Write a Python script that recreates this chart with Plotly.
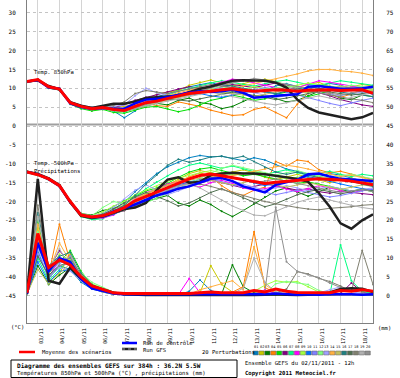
import plotly.graph_objects as go

# ---------------- data ----------------
HOURS = [0, 12, 24, 36, 48, 60, 72, 84, 96, 108, 120, 132, 144, 156, 168, 180, 192,
         204, 216, 228, 240, 252, 264, 276, 288, 300, 312, 324, 336, 348, 360, 372, 384]
DAY_HOURS = [12, 36, 60, 84, 108, 132, 156, 180, 204, 228, 252, 276, 300, 324, 348, 372]
DAY_LABELS = ["03/11", "04/11", "05/11", "06/11", "07/11", "08/11", "09/11", "10/11",
              "11/11", "12/11", "13/11", "14/11", "15/11", "16/11", "17/11", "18/11"]
LEFT_TICKS = [-45, -40, -35, -30, -25, -20, -15, -10, -5, 0, 5, 10, 15, 20, 25, 30]
RIGHT_TICKS = [0, 5, 10, 15, 20, 25, 30, 35, 40, 45, 50, 55, 60, 65, 70, 75]
PERT_NAMES = ["01", "02", "03", "04", "05", "06", "07", "08", "09", "10",
              "11", "12", "13", "14", "15", "16", "17", "18", "19", "20"]
PERT_COLORS = ["#0080c0", "#c8c800", "#008000", "#ff8000", "#00e000", "#800080", "#00ff80",
               "#ff00ff", "#a0ff40", "#0070ff", "#8080ff", "#80ff80", "#a0a0ff", "#ffb040",
               "#c0c060", "#208080", "#507050", "#808070", "#b0b0b0", "#909090"]

# Temperature 850 hPa (deg C)
T850_MEAN = [11.8, 12.3, 10.4, 9.8, 6.2, 5.2, 4.6, 4.9, 4.4, 4.1, 5.2, 6.2, 6.6, 7.4, 8.0, 8.6, 8.8,
             9.2, 9.6, 9.9, 9.5, 9.2, 9.4, 9.6, 9.5, 9.2, 9.5, 9.6, 9.6, 9.4, 9.4, 9.6, 8.7]
T850_CTRL = [11.8, 12.2, 10.2, 9.9, 6.0, 5.0, 4.5, 4.8, 4.6, 4.6, 6.0, 7.0, 7.2, 7.6, 8.2, 8.8, 9.2,
             9.0, 9.2, 9.6, 8.8, 7.5, 7.8, 8.0, 8.2, 8.4, 10.4, 10.6, 10.2, 9.9, 9.9, 10.0, 10.4]
T850_GFS = [11.8, 12.1, 10.6, 9.7, 6.3, 5.4, 4.8, 5.3, 5.9, 5.9, 6.5, 7.4, 7.6, 7.8, 8.0, 9.0, 9.9,
            10.5, 11.2, 12.0, 12.1, 12.0, 12.0, 11.5, 10.2, 7.0, 4.8, 3.6, 3.0, 2.4, 1.8, 2.3, 3.5]
T850_P01 = [11.7, 12.2, 10.1, 9.5, 6.0, 5.3, 4.8, 5.0, 4.0, 2.2, 4.0, 6.5, 7.8, 8.5, 9.6, 10.4, 11.0,
            11.5, 10.8, 10.2, 9.6, 8.8, 9.4, 10.6, 11.2, 10.4, 9.8, 10.5, 11.3, 10.8, 9.9, 10.2, 9.8]
T850_P02 = [11.9, 12.4, 10.6, 9.6, 6.4, 5.0, 4.3, 5.1, 4.8, 5.2, 5.8, 7.2, 8.4, 9.0, 9.4, 10.8, 11.6,
            12.2, 11.4, 10.6, 11.2, 12.0, 12.4, 11.8, 10.8, 10.2, 11.0, 11.6, 10.4, 9.8, 10.4, 11.0, 10.6]
T850_P03 = [11.8, 12.1, 10.2, 9.9, 6.1, 5.0, 4.4, 4.6, 4.2, 3.8, 4.6, 5.4, 6.0, 5.6, 6.8, 7.4, 6.2,
            5.8, 4.6, 5.2, 6.6, 7.8, 8.2, 7.2, 6.4, 6.8, 8.0, 9.2, 8.6, 7.4, 7.0, 8.2, 7.8]
T850_P04 = [11.6, 12.0, 10.3, 9.8, 6.3, 5.4, 4.9, 5.3, 4.6, 4.4, 5.8, 6.0, 5.4, 5.2, 6.4, 5.8, 5.2,
            4.2, 3.6, 2.8, 3.0, 4.4, 5.0, 3.6, 2.2, 5.8, 8.8, 9.6, 8.4, 7.6, 8.6, 9.4, 8.8]
T850_P05 = [11.8, 12.2, 10.0, 9.6, 5.8, 4.6, 4.0, 4.4, 3.6, 3.4, 4.2, 5.0, 5.2, 4.6, 3.8, 4.4, 5.6,
            6.8, 7.4, 8.2, 7.6, 6.8, 7.2, 8.4, 9.0, 8.2, 7.8, 8.6, 9.4, 10.0, 9.6, 9.0, 9.4]
T850_P06 = [11.9, 12.3, 10.4, 9.8, 6.2, 5.2, 4.7, 5.0, 4.9, 5.6, 6.8, 7.6, 8.2, 9.0, 9.8, 10.4, 10.0,
            9.6, 10.4, 11.0, 10.6, 10.2, 10.8, 11.4, 10.8, 10.0, 9.6, 8.8, 8.0, 7.0, 6.2, 5.6, 5.2]
T850_P07 = [11.7, 12.1, 10.3, 9.7, 6.0, 5.1, 4.6, 4.6, 4.0, 3.8, 4.8, 6.0, 7.0, 8.2, 9.2, 10.0, 10.6,
            11.4, 12.0, 11.6, 11.0, 10.6, 11.2, 11.8, 12.2, 11.6, 11.0, 10.8, 11.4, 12.0, 11.6, 11.2, 10.8]
T850_P08 = [11.8, 12.3, 10.5, 9.9, 6.3, 5.3, 4.7, 4.9, 4.3, 4.0, 5.0, 6.4, 7.0, 7.8, 8.6, 9.2, 9.8,
            10.8, 11.6, 12.4, 12.2, 11.4, 10.8, 10.0, 9.6, 10.2, 11.2, 12.0, 11.6, 11.0, 10.6, 10.2, 9.8]
T850_P09 = [11.9, 12.4, 10.6, 10.0, 6.4, 5.4, 4.8, 5.2, 4.7, 4.6, 5.4, 6.2, 6.8, 7.6, 8.2, 9.0, 9.4,
            9.0, 8.6, 9.2, 9.8, 10.4, 10.0, 9.6, 10.2, 10.8, 11.4, 11.0, 10.6, 10.2, 9.8, 10.2, 9.6]
T850_P10 = [11.8, 12.2, 10.4, 9.8, 6.1, 5.1, 4.5, 4.8, 4.2, 4.0, 4.8, 5.8, 6.6, 7.2, 7.6, 8.2, 8.6,
            8.0, 7.6, 8.2, 8.8, 9.4, 9.0, 8.6, 8.2, 8.8, 9.4, 9.8, 10.4, 10.0, 9.6, 9.2, 8.4]
T850_P11 = [11.7, 12.2, 10.3, 9.7, 6.0, 5.0, 4.5, 4.7, 4.3, 4.5, 5.6, 6.8, 7.2, 7.0, 7.8, 8.4, 9.0,
            9.6, 9.0, 8.4, 8.8, 9.6, 10.2, 9.8, 9.0, 8.2, 7.4, 6.8, 6.0, 5.4, 6.2, 6.8, 7.4]
T850_P12 = [11.8, 12.3, 10.5, 9.9, 6.2, 5.2, 4.6, 5.0, 4.5, 4.2, 5.0, 6.0, 6.4, 7.0, 7.6, 8.4, 9.2,
            9.8, 10.4, 10.0, 9.4, 9.0, 9.6, 10.2, 10.6, 10.2, 9.8, 9.4, 9.8, 10.4, 10.8, 10.4, 10.0]
T850_P13 = [11.9, 12.4, 10.6, 10.0, 6.5, 5.5, 5.0, 5.4, 5.2, 5.6, 8.0, 10.0, 8.8, 8.2, 8.0, 8.4, 9.0,
            9.6, 10.0, 9.6, 9.2, 8.8, 8.2, 7.6, 8.0, 8.6, 9.2, 8.8, 8.4, 8.0, 8.6, 9.0, 8.8]
T850_P14 = [11.8, 12.3, 10.5, 9.9, 6.2, 5.1, 4.7, 5.0, 4.5, 4.3, 5.5, 6.8, 7.4, 8.2, 8.8, 9.5, 10.2,
            9.8, 9.4, 10.0, 10.6, 11.2, 11.8, 12.4, 13.2, 13.8, 14.6, 15.0, 15.0, 14.6, 14.4, 14.0, 13.4]
T850_P15 = [11.7, 12.1, 10.2, 9.6, 6.0, 5.0, 4.4, 4.7, 4.2, 4.0, 4.8, 5.6, 6.2, 6.8, 7.6, 8.2, 8.8,
            9.4, 9.0, 8.6, 8.2, 7.8, 8.4, 9.0, 9.6, 9.2, 8.8, 9.4, 10.0, 10.6, 10.2, 9.8, 9.4]
T850_P16 = [11.8, 12.2, 10.4, 9.8, 6.2, 5.2, 4.6, 4.9, 4.4, 4.2, 5.0, 6.2, 7.0, 7.8, 8.4, 9.0, 9.8,
            10.4, 11.0, 10.6, 10.0, 9.6, 9.0, 8.6, 9.2, 9.8, 10.4, 10.0, 9.4, 9.0, 8.6, 8.2, 7.8]
T850_P17 = [11.8, 12.3, 10.5, 9.9, 6.3, 5.3, 4.8, 5.0, 4.6, 4.4, 5.2, 6.0, 6.6, 7.2, 7.0, 6.6, 7.2,
            7.8, 8.4, 9.0, 8.6, 8.2, 7.6, 7.0, 7.4, 8.0, 8.6, 9.2, 9.0, 8.6, 8.2, 8.6, 9.0]
T850_P18 = [11.9, 12.4, 10.6, 10.0, 6.4, 5.4, 4.9, 5.2, 5.4, 6.4, 8.6, 9.4, 9.0, 8.6, 9.2, 9.8, 10.6,
            11.0, 10.6, 10.2, 9.8, 9.4, 9.0, 9.6, 10.2, 9.8, 9.4, 8.8, 8.2, 7.6, 7.2, 6.8, 6.2]
T850_P19 = [11.7, 12.1, 10.2, 9.7, 6.0, 5.0, 4.4, 4.6, 4.1, 3.9, 4.6, 5.4, 6.0, 6.6, 7.2, 7.8, 8.4,
            9.0, 8.4, 7.8, 7.2, 6.6, 6.0, 5.6, 6.2, 6.8, 7.4, 8.0, 7.4, 6.8, 7.6, 8.2, 8.8]
T850_P20 = [11.8, 12.2, 10.3, 9.8, 6.1, 5.1, 4.6, 4.8, 4.3, 4.1, 4.9, 5.8, 6.4, 7.0, 7.8, 8.6, 9.4,
            10.2, 10.8, 11.4, 12.0, 12.6, 12.2, 11.6, 11.0, 10.4, 9.8, 9.2, 8.6, 8.2, 8.8, 9.4, 9.0]

# Temperature 500 hPa (deg C)
T500_MEAN = [-12.2, -12.9, -14.0, -15.8, -20.0, -23.6, -24.1, -23.8, -22.8, -21.6, -19.8, -18.6, -17.5,
             -16.4, -15.2, -14.0, -13.1, -12.7, -13.2, -13.7, -14.2, -14.9, -15.2, -14.9, -14.6, -14.4,
             -14.2, -14.0, -14.1, -14.3, -14.6, -15.0, -15.6]
T500_CTRL = [-12.2, -12.8, -14.1, -15.9, -20.1, -23.5, -24.2, -23.9, -22.6, -21.8, -20.8, -19.6, -18.4,
             -17.6, -16.6, -16.0, -15.0, -14.0, -13.8, -14.6, -16.0, -16.8, -17.6, -15.6, -15.0, -14.2,
             -12.8, -12.6, -13.4, -14.0, -14.2, -14.4, -14.6]
T500_GFS = [-12.1, -12.7, -13.9, -15.7, -20.2, -23.8, -24.4, -24.0, -23.0, -22.0, -21.6, -20.4, -17.0,
            -14.2, -13.6, -15.0, -14.8, -13.0, -12.6, -12.4, -12.6, -12.6, -12.8, -13.2, -13.6, -14.0,
            -14.8, -17.8, -21.4, -25.8, -27.2, -25.0, -23.4]
T500_P01 = [-12.0, -12.6, -13.8, -15.6, -19.8, -23.4, -24.4, -24.0, -22.0, -20.2, -17.4, -15.0, -12.6,
            -10.8, -9.6, -8.4, -7.8, -8.2, -8.0, -8.6, -9.2, -8.4, -9.0, -10.2, -11.4, -12.0, -12.8,
            -13.4, -12.6, -13.0, -13.8, -14.4, -15.2]
T500_P02 = [-12.3, -13.0, -14.2, -16.0, -20.2, -23.8, -24.6, -24.2, -23.4, -22.0, -20.4, -18.8, -17.0,
            -15.6, -14.0, -12.6, -11.8, -12.4, -13.0, -12.2, -11.6, -12.4, -13.6, -14.2, -13.4, -12.8,
            -13.6, -14.4, -15.0, -14.2, -13.8, -14.6, -15.4]
T500_P03 = [-12.1, -12.8, -14.1, -15.9, -19.9, -23.2, -23.6, -22.4, -21.8, -21.2, -20.6, -20.0, -19.2,
            -18.4, -20.4, -21.2, -19.6, -20.8, -22.6, -24.0, -22.4, -20.6, -18.8, -17.2, -16.4, -17.6,
            -18.6, -17.4, -16.2, -16.8, -17.4, -16.6, -17.2]
T500_P04 = [-12.2, -12.8, -14.0, -15.7, -20.1, -23.6, -24.0, -23.6, -22.6, -21.4, -19.4, -18.0, -16.8,
            -15.4, -14.6, -13.4, -12.4, -13.4, -15.8, -17.6, -18.4, -17.0, -16.2, -9.4, -10.6, -9.0,
            -9.4, -11.6, -12.4, -12.0, -12.8, -13.4, -14.2]
T500_P05 = [-12.3, -13.0, -14.1, -15.9, -20.3, -23.9, -24.4, -23.2, -21.4, -19.8, -18.6, -17.2, -16.4,
            -15.2, -13.6, -12.2, -11.4, -11.0, -11.8, -12.6, -13.2, -12.8, -13.4, -14.0, -14.6, -15.2,
            -14.8, -15.4, -16.0, -16.6, -17.2, -16.8, -17.4]
T500_P06 = [-12.1, -12.8, -13.9, -15.6, -19.8, -23.5, -24.2, -24.0, -23.2, -22.4, -20.8, -19.4, -18.2,
            -17.4, -16.6, -15.8, -15.0, -14.4, -15.0, -15.8, -16.4, -16.0, -15.4, -15.8, -16.4, -17.0,
            -16.6, -17.4, -17.8, -17.2, -17.6, -18.0, -18.2]
T500_P07 = [-12.4, -13.1, -14.3, -16.1, -20.4, -24.0, -24.8, -24.6, -23.0, -21.0, -18.8, -16.6, -14.8,
            -13.2, -11.6, -10.4, -9.8, -10.6, -11.2, -10.6, -11.4, -12.2, -12.8, -12.2, -11.6, -12.4,
            -13.0, -12.6, -12.0, -12.8, -13.4, -12.8, -13.2]
T500_P08 = [-12.2, -12.9, -14.0, -15.8, -20.0, -23.6, -24.2, -24.4, -23.6, -21.8, -19.2, -17.6, -16.8,
            -15.4, -14.8, -15.6, -16.2, -15.0, -14.4, -15.2, -16.4, -17.0, -16.6, -16.0, -16.8, -17.4,
            -16.6, -15.8, -16.4, -17.2, -17.8, -17.0, -16.8]
T500_P09 = [-12.0, -12.7, -13.9, -15.7, -19.7, -23.2, -23.8, -22.8, -21.2, -20.0, -18.2, -17.0, -16.0,
            -14.6, -13.8, -13.0, -12.4, -11.8, -12.4, -13.0, -12.6, -12.0, -12.6, -13.4, -14.0, -13.6,
            -13.0, -13.6, -14.2, -13.8, -14.4, -15.0, -15.6]
T500_P10 = [-12.3, -13.0, -14.2, -16.0, -20.2, -23.8, -24.4, -24.2, -23.4, -22.2, -20.6, -19.2, -18.0,
            -16.8, -15.6, -14.8, -14.2, -13.6, -13.0, -13.6, -14.4, -15.2, -15.8, -15.2, -14.6, -14.0,
            -13.4, -14.0, -14.6, -15.4, -16.0, -16.6, -17.0]
T500_P11 = [-12.2, -12.9, -14.1, -15.9, -20.1, -23.7, -24.3, -23.6, -22.4, -21.2, -19.8, -19.0, -18.2,
            -17.0, -16.0, -15.2, -14.6, -14.0, -14.8, -15.6, -16.2, -16.8, -17.4, -18.2, -17.6, -17.0,
            -17.6, -18.2, -18.8, -18.4, -17.8, -17.2, -16.6]
T500_P12 = [-12.1, -12.8, -14.0, -15.7, -19.9, -23.4, -23.8, -21.6, -20.0, -20.6, -21.2, -20.4, -19.2,
            -17.8, -16.6, -15.2, -13.8, -12.6, -11.2, -10.4, -11.0, -11.8, -12.4, -13.0, -12.4, -11.8,
            -12.6, -13.2, -13.8, -13.2, -12.8, -13.4, -14.0]
T500_P13 = [-12.2, -12.9, -14.0, -15.8, -20.0, -23.5, -23.9, -23.2, -21.6, -19.4, -17.0, -15.6, -16.8,
            -18.2, -17.2, -16.0, -15.0, -14.4, -13.8, -14.6, -15.4, -16.2, -17.0, -16.4, -15.8, -16.4,
            -17.2, -16.6, -16.0, -16.6, -17.2, -16.8, -16.4]
T500_P14 = [-12.3, -13.0, -14.1, -15.9, -20.1, -23.7, -24.2, -23.8, -22.8, -21.4, -19.6, -18.0, -16.8,
            -15.6, -14.6, -13.6, -13.0, -13.4, -13.6, -13.2, -12.6, -12.0, -11.4, -10.8, -10.4, -10.8,
            -11.4, -12.0, -12.8, -13.4, -13.0, -13.6, -14.4]
T500_P15 = [-12.1, -12.8, -13.9, -15.7, -19.9, -23.5, -24.0, -23.4, -22.2, -20.8, -19.0, -17.8, -16.6,
            -15.8, -15.0, -14.4, -13.8, -14.4, -15.0, -15.6, -15.0, -14.4, -15.0, -15.6, -16.2, -15.6,
            -15.0, -15.6, -16.2, -16.8, -16.2, -15.6, -16.0]
T500_P16 = [-12.2, -12.8, -14.0, -15.8, -20.0, -23.6, -24.2, -23.8, -22.6, -21.0, -18.4, -15.4, -13.0,
            -10.4, -8.8, -9.6, -9.0, -8.2, -8.0, -8.6, -8.0, -9.4, -11.0, -12.2, -12.8, -12.2, -13.0,
            -13.8, -14.4, -14.0, -14.8, -15.4, -16.0]
T500_P17 = [-12.2, -12.9, -14.0, -15.8, -20.0, -23.6, -24.0, -23.4, -22.0, -20.4, -18.8, -17.6, -18.6,
            -19.8, -21.2, -20.4, -19.0, -17.6, -16.6, -17.8, -19.2, -20.4, -21.4, -20.6, -19.4, -18.2,
            -17.4, -16.8, -17.4, -18.0, -17.4, -16.8, -17.2]
T500_P18 = [-12.1, -12.8, -13.9, -15.7, -19.9, -23.5, -24.1, -23.9, -23.2, -22.4, -21.2, -19.8, -18.4,
            -17.2, -16.4, -15.8, -15.4, -16.0, -16.8, -17.6, -18.6, -19.4, -20.0, -20.6, -21.2, -21.6,
            -22.0, -22.2, -21.8, -21.6, -21.4, -21.0, -20.8]
T500_P19 = [-12.3, -13.0, -14.2, -16.0, -20.2, -23.8, -24.4, -24.0, -23.0, -21.8, -20.2, -19.0, -17.8,
            -16.8, -16.0, -15.4, -16.4, -18.0, -19.6, -21.2, -22.4, -23.6, -23.8, -22.6, -21.4, -20.2,
            -19.4, -18.8, -19.6, -20.4, -21.0, -21.6, -22.0]
T500_P20 = [-12.2, -12.9, -14.1, -15.9, -20.1, -23.7, -24.3, -23.9, -22.8, -21.6, -20.0, -18.8, -17.6,
            -16.6, -15.8, -15.0, -14.4, -13.8, -13.2, -13.8, -14.4, -15.0, -14.6, -14.0, -14.6, -15.2,
            -15.8, -16.4, -17.0, -17.6, -17.2, -16.8, -17.4]

# Precipitation (mm)
PR_MEAN = [0.8, 16.5, 7.5, 9.5, 8.2, 5.0, 2.6, 1.6, 0.8, 0.6, 0.6, 0.6, 0.6, 0.7, 0.6, 0.6, 0.8,
           1.0, 0.8, 0.9, 0.8, 1.4, 1.0, 1.8, 1.2, 0.9, 0.8, 0.7, 0.8, 1.4, 1.2, 1.6, 1.2]
PR_CTRL = [0.6, 14.0, 6.5, 10.0, 9.0, 4.5, 2.0, 1.2, 0.6, 0.4, 0.4, 0.3, 0.4, 0.5, 0.4, 0.3, 0.4,
           0.5, 0.4, 0.3, 0.4, 0.3, 0.4, 0.6, 0.4, 0.3, 0.4, 0.3, 0.4, 0.5, 0.4, 0.3, 0.4]
PR_GFS = [0.5, 31.0, 4.0, 3.2, 7.5, 4.5, 2.6, 1.6, 0.8, 0.4, 0.3, 0.2, 0.3, 0.2, 0.3, 0.2, 0.3,
          0.2, 0.3, 0.2, 0.3, 0.2, 0.3, 0.4, 0.3, 0.2, 0.3, 0.4, 0.9, 1.8, 2.0, 1.9, 1.0]
PR_P01 = [0.5, 12.0, 4.5, 8.0, 7.0, 3.6, 1.8, 1.0, 0.4, 0.3, 0.2, 0.3, 0.6, 0.4, 0.2, 1.2, 4.2,
          1.4, 0.6, 0.4, 0.3, 0.3, 0.4, 0.8, 0.5, 0.3, 0.2, 0.4, 0.6, 0.3, 0.2, 0.4, 0.3]
PR_P02 = [0.6, 18.0, 3.8, 6.0, 11.0, 5.0, 2.4, 1.4, 0.6, 0.3, 0.2, 0.2, 0.4, 0.3, 0.2, 0.3, 0.8,
          8.0, 3.0, 1.0, 0.4, 0.3, 0.2, 0.3, 0.4, 0.2, 0.3, 0.5, 0.4, 0.3, 0.2, 0.3, 0.4]
PR_P03 = [0.4, 8.0, 3.0, 5.5, 7.5, 4.0, 2.2, 1.2, 0.5, 0.4, 0.3, 0.2, 0.2, 0.3, 0.4, 0.3, 0.2,
          0.3, 0.5, 8.2, 2.4, 0.8, 0.4, 0.3, 0.2, 0.4, 0.5, 0.3, 0.2, 0.4, 0.3, 0.2, 0.3]
PR_P04 = [0.5, 15.0, 5.5, 19.0, 9.0, 6.0, 3.0, 1.6, 0.8, 0.4, 0.3, 0.2, 0.3, 0.4, 0.3, 0.2, 0.4,
          0.6, 0.8, 1.0, 2.4, 17.0, 2.2, 0.8, 0.4, 0.3, 0.2, 0.3, 0.5, 0.4, 0.3, 0.2, 0.3]
PR_P05 = [0.6, 20.0, 6.0, 9.0, 12.0, 6.5, 3.0, 1.8, 0.8, 0.4, 0.2, 0.3, 0.2, 0.3, 0.5, 0.4, 0.3,
          0.2, 0.3, 0.4, 0.3, 0.2, 0.3, 0.2, 0.4, 0.3, 0.2, 0.3, 0.4, 0.6, 0.4, 0.3, 0.2]
PR_P06 = [0.5, 14.0, 7.0, 12.0, 8.5, 5.5, 2.6, 1.2, 0.5, 0.3, 0.2, 0.2, 0.3, 0.2, 0.2, 0.3, 0.2,
          0.3, 0.4, 0.3, 0.2, 0.3, 0.8, 0.4, 0.3, 0.2, 0.3, 0.4, 0.3, 0.6, 3.4, 1.0, 0.4]
PR_P07 = [0.4, 10.0, 4.0, 7.0, 10.0, 5.0, 2.8, 1.6, 0.7, 0.3, 0.2, 0.3, 0.2, 0.4, 0.3, 0.2, 0.3,
          0.4, 0.3, 0.2, 0.3, 0.4, 0.3, 0.2, 0.3, 0.4, 0.3, 0.2, 0.4, 13.5, 4.0, 1.2, 0.6]
PR_P08 = [0.5, 16.0, 5.0, 9.5, 8.0, 4.8, 2.2, 1.4, 0.6, 0.4, 0.3, 0.2, 0.3, 0.4, 0.3, 4.6, 0.8,
          0.3, 0.2, 0.3, 0.4, 0.3, 1.6, 0.6, 0.3, 0.2, 0.3, 0.4, 0.3, 0.2, 0.3, 0.4, 0.3]
PR_P09 = [0.6, 13.0, 6.5, 11.0, 9.5, 5.8, 3.2, 2.0, 0.9, 0.4, 0.3, 0.2, 0.3, 0.2, 0.3, 0.4, 0.3,
          0.2, 0.3, 0.4, 0.6, 1.2, 2.8, 4.0, 3.6, 3.8, 2.4, 1.0, 0.5, 0.3, 0.4, 0.3, 0.2]
PR_P10 = [0.4, 9.0, 3.5, 6.5, 7.0, 4.2, 2.0, 1.0, 0.4, 0.3, 0.2, 0.3, 0.2, 0.3, 0.2, 0.3, 0.4,
          0.3, 0.2, 0.3, 0.4, 0.3, 0.2, 0.3, 0.4, 0.3, 0.2, 0.3, 0.6, 0.4, 0.3, 0.2, 0.3]
PR_P11 = [0.5, 11.0, 5.0, 8.5, 10.5, 5.2, 2.4, 1.2, 0.5, 0.3, 0.2, 0.3, 0.4, 0.3, 0.2, 0.3, 0.2,
          0.4, 0.3, 0.2, 0.3, 0.4, 0.3, 0.2, 0.3, 0.4, 0.3, 0.5, 0.8, 0.4, 0.3, 0.2, 0.3]
PR_P12 = [0.6, 17.0, 7.5, 10.0, 8.0, 6.2, 3.6, 2.2, 1.0, 0.5, 0.3, 0.2, 0.3, 0.4, 0.3, 0.2, 0.3,
          0.4, 0.3, 0.2, 0.3, 0.4, 0.6, 3.2, 3.8, 3.4, 3.0, 1.4, 0.6, 0.4, 0.3, 0.2, 0.3]
PR_P13 = [0.5, 12.5, 4.8, 7.5, 6.5, 4.0, 2.0, 1.2, 0.5, 0.3, 0.2, 0.3, 0.2, 0.3, 0.4, 0.3, 0.2,
          0.3, 0.4, 0.3, 0.2, 0.3, 0.4, 0.3, 0.2, 0.3, 0.4, 0.8, 1.6, 2.4, 1.2, 0.5, 0.3]
PR_P14 = [0.4, 19.0, 6.0, 14.0, 9.0, 5.5, 2.8, 1.6, 0.7, 0.4, 0.3, 0.4, 0.6, 0.8, 0.5, 0.4, 1.6,
          2.4, 3.4, 4.0, 1.6, 13.0, 3.0, 1.0, 0.6, 0.4, 0.3, 0.4, 0.3, 0.2, 0.3, 0.4, 0.3]
PR_P15 = [0.5, 7.0, 3.2, 6.0, 8.5, 4.5, 2.2, 1.0, 0.4, 0.3, 0.2, 0.3, 0.2, 0.3, 0.2, 0.4, 0.3,
          0.2, 0.3, 0.4, 0.3, 0.2, 0.3, 0.4, 0.3, 0.2, 0.3, 0.4, 0.3, 0.2, 0.3, 0.4, 0.3]
PR_P16 = [0.6, 22.0, 8.0, 10.5, 11.5, 6.0, 3.0, 1.6, 0.7, 0.3, 0.2, 0.3, 0.4, 0.3, 0.2, 0.3, 0.4,
          0.3, 0.2, 0.3, 0.4, 0.3, 0.2, 0.3, 0.4, 0.3, 0.2, 0.3, 0.4, 0.3, 0.2, 0.3, 0.4]
PR_P17 = [0.4, 10.5, 5.5, 8.0, 9.0, 5.0, 2.6, 1.4, 0.6, 0.3, 0.2, 0.3, 0.2, 0.3, 0.4, 0.3, 0.2,
          0.3, 0.4, 0.3, 0.2, 0.3, 0.4, 0.3, 0.2, 0.3, 0.4, 0.3, 0.2, 0.3, 0.4, 0.3, 0.2]
PR_P18 = [0.5, 24.0, 7.0, 9.0, 10.0, 5.6, 2.8, 1.4, 0.6, 0.3, 0.2, 0.3, 0.4, 0.3, 0.2, 0.3, 0.4,
          0.3, 0.2, 0.3, 0.4, 0.3, 0.4, 0.8, 1.8, 6.4, 5.8, 4.6, 3.8, 2.6, 1.2, 12.0, 3.0]
PR_P19 = [0.6, 21.0, 6.5, 12.5, 7.5, 5.2, 2.6, 1.2, 0.5, 0.3, 0.2, 0.3, 0.2, 0.3, 0.2, 0.3, 0.2,
          0.3, 0.4, 0.6, 2.0, 10.0, 3.6, 1.0, 0.4, 0.3, 0.2, 0.3, 0.4, 0.3, 0.2, 0.3, 0.4]
PR_P20 = [0.5, 15.5, 5.0, 8.0, 8.5, 5.0, 2.4, 1.2, 0.5, 0.3, 0.2, 0.3, 0.4, 0.3, 0.2, 0.3, 0.4,
          0.3, 0.2, 0.3, 0.4, 0.6, 1.0, 23.5, 9.0, 6.5, 5.6, 4.8, 3.4, 2.2, 1.4, 0.8, 0.4]

T850_PERT = [T850_P01, T850_P02, T850_P03, T850_P04, T850_P05, T850_P06, T850_P07, T850_P08, T850_P09,
             T850_P10, T850_P11, T850_P12, T850_P13, T850_P14, T850_P15, T850_P16, T850_P17, T850_P18,
             T850_P19, T850_P20]
T500_PERT = [T500_P01, T500_P02, T500_P03, T500_P04, T500_P05, T500_P06, T500_P07, T500_P08, T500_P09,
             T500_P10, T500_P11, T500_P12, T500_P13, T500_P14, T500_P15, T500_P16, T500_P17, T500_P18,
             T500_P19, T500_P20]
PR_PERT = [PR_P01, PR_P02, PR_P03, PR_P04, PR_P05, PR_P06, PR_P07, PR_P08, PR_P09, PR_P10,
           PR_P11, PR_P12, PR_P13, PR_P14, PR_P15, PR_P16, PR_P17, PR_P18, PR_P19, PR_P20]

# ---------------- figure ----------------
W, H = 400, 378
ML, MR, MT, MB = 27, 27, 0, 55
PW, PH = W - ML - MR, H - MT - MB
MONO = "DejaVu Sans Mono"


def px(x):
    return (x - ML) / PW


def py(y):
    return (H - MB - y) / PH


fig = go.Figure()

for i in range(20):
    c = PERT_COLORS[i]
    for ys, ax in ((T850_PERT[i], "y"), (T500_PERT[i], "y"), (PR_PERT[i], "y2")):
        fig.add_trace(go.Scatter(x=HOURS, y=ys, yaxis=ax, mode="lines+markers",
                                 line=dict(color=c, width=1), marker=dict(color=c, size=2),
                                 hoverinfo="skip"))

for ys, ax in ((T850_GFS, "y"), (T500_GFS, "y"), (PR_GFS, "y2")):
    fig.add_trace(go.Scatter(x=HOURS, y=ys, yaxis=ax, mode="lines",
                             line=dict(color="#202020", width=2.5), hoverinfo="skip"))
for ys, ax in ((T850_CTRL, "y"), (T500_CTRL, "y"), (PR_CTRL, "y2")):
    fig.add_trace(go.Scatter(x=HOURS, y=ys, yaxis=ax, mode="lines",
                             line=dict(color="#0000ff", width=2.5), hoverinfo="skip"))
for ys, ax in ((T850_MEAN, "y"), (T500_MEAN, "y"), (PR_MEAN, "y2")):
    fig.add_trace(go.Scatter(x=HOURS, y=ys, yaxis=ax, mode="lines",
                             line=dict(color="#ff0000", width=3), hoverinfo="skip"))

ytickfont = dict(family=MONO, size=6, color="#000000")
xtickfont = dict(family=MONO, size=5.3, color="#000000")
LEFT_RANGE = [-52.2, 33.4]
fig.update_layout(
    width=W, height=H, margin=dict(l=ML, r=MR, t=MT, b=MB),
    paper_bgcolor="white", plot_bgcolor="white", showlegend=False,
    xaxis=dict(range=[0, 384], tickmode="array", tickvals=DAY_HOURS, ticktext=DAY_LABELS,
               tickangle=-90, tickfont=xtickfont, showgrid=True, gridcolor="#d4d4d4", gridwidth=1,
               showline=True, linecolor="#808080", linewidth=1, zeroline=False, ticks="",
               ticklabelshift=3, ticklabelstandoff=2, fixedrange=True),
    yaxis=dict(range=LEFT_RANGE, tickmode="array", tickvals=LEFT_TICKS,
               ticktext=[str(v) for v in LEFT_TICKS], tickfont=ytickfont, showgrid=True,
               gridcolor="#c4c4c4", griddash="dot", gridwidth=1, zeroline=False,
               showline=True, linecolor="#808080", linewidth=1, ticks="", ticklabelstandoff=9,
               fixedrange=True),
    yaxis2=dict(range=[LEFT_RANGE[0] + 45, LEFT_RANGE[1] + 45], overlaying="y", side="right",
                tickmode="array", tickvals=RIGHT_TICKS, ticktext=[str(v) for v in RIGHT_TICKS],
                tickfont=ytickfont, showgrid=False, zeroline=False, showline=True,
                linecolor="#808080", linewidth=1, ticks="", ticklabelstandoff=11, fixedrange=True),
)

# panel separator
fig.add_shape(type="line", xref="paper", yref="y", x0=0, x1=1, y0=0.4, y1=0.4,
              line=dict(color="#a0a0a0", width=2), layer="below")

small = dict(family=MONO, size=5.5, color="#000000")


def note(text, x, y, font=small, xanchor="left"):
    fig.add_annotation(text=text, xref="paper", yref="paper", x=px(x), y=py(y),
                       xanchor=xanchor, yanchor="middle", showarrow=False, font=font)


note("Temp. 850hPa", 32, 73)
note("Temp. 500hPa", 32, 163)
note("Précipitations", 32, 172)
note("(°C)", 9, 327)
note("(mm)", 376, 328)

# legend
fig.add_shape(type="line", xref="paper", yref="paper", x0=px(19), x1=px(35), y0=py(352), y1=py(352),
              line=dict(color="#ff0000", width=2.5))
note("Moyenne des scénarios", 40, 352)
fig.add_shape(type="line", xref="paper", yref="paper", x0=px(122), x1=px(137), y0=py(343), y1=py(343),
              line=dict(color="#0000ff", width=2.5))
note("Run de contrôle", 141, 343)
fig.add_shape(type="line", xref="paper", yref="paper", x0=px(122), x1=px(137), y0=py(349), y1=py(349),
              line=dict(color="#202020", width=2.5))
fig.add_shape(type="line", xref="paper", yref="paper", x0=px(122), x1=px(137), y0=py(349), y1=py(349),
              line=dict(color="#a0a0a0", width=1, dash="dot"))
note("Run GFS", 141, 350)
note("20 Perturbations", 200, 352)
for i, (name, c) in enumerate(zip(PERT_NAMES, PERT_COLORS)):
    x0 = 253 + i * 5.9
    fig.add_shape(type="rect", xref="paper", yref="paper", x0=px(x0), x1=px(x0 + 5.2),
                  y0=py(355), y1=py(351), line=dict(color="#606060", width=0.5), fillcolor=c)
    fig.add_annotation(text=name, xref="paper", yref="paper", x=px(x0 + 2.6), y=py(347),
                       xanchor="center", yanchor="middle", showarrow=False,
                       font=dict(family=MONO, size=3.6, color="#000000"))

# title box
fig.add_shape(type="rect", xref="paper", yref="paper", x0=px(11), x1=px(237), y0=py(377.5), y1=py(360),
              line=dict(color="#000000", width=1), fillcolor="white")
note("<b>Diagramme des ensembles GEFS sur 384h : 36.2N 5.5W</b>", 15, 366,
     font=dict(family=MONO, size=6.1, color="#000000"))
note("Températures 850hPa et 500hPa (°C) , précipitations (mm)", 15, 373.5,
     font=dict(family=MONO, size=5.6, color="#000000"))
note("Ensemble GEFS du 02/11/2011 - 12h", 243, 362.5)
note("<b>Copyright 2011 Meteociel.fr</b>", 243, 373.5, font=dict(family=MONO, size=5.6, color="#000000"))

fig.write_html("out.html", config={"displayModeBar": False},
               post_script="document.body.style.margin='0';document.body.style.overflow='hidden';")
